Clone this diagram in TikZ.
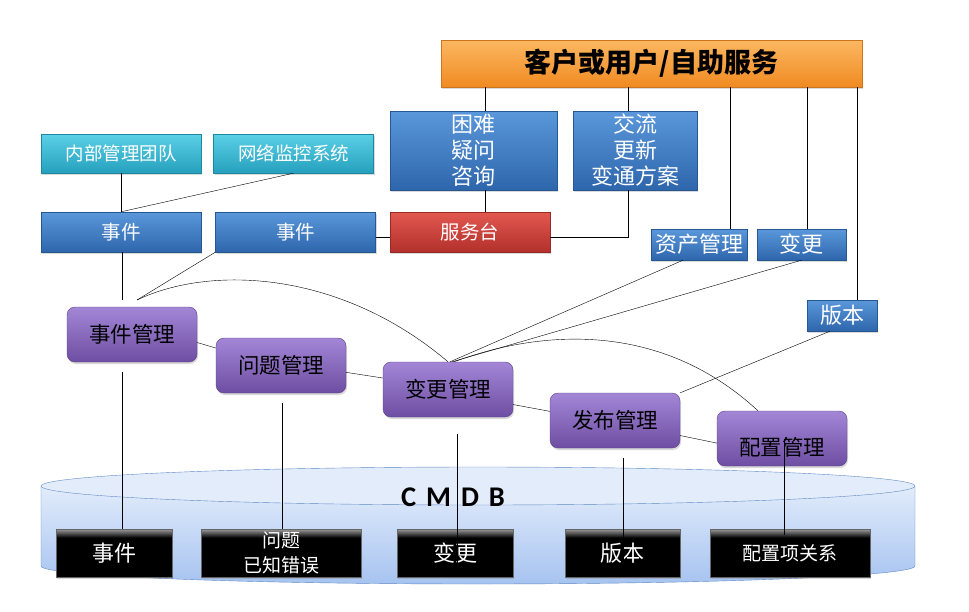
\documentclass[tikz,border=0pt]{standalone}
\usepackage{fontspec}
\setmainfont{Noto Sans CJK SC}
\newfontfamily\latinfont{Carlito}
\usetikzlibrary{shadows,calc}

\definecolor{orangetop}{HTML}{FCB862}
\definecolor{orangebot}{HTML}{F08A22}
\definecolor{bluetop}{HTML}{5A97DB}
\definecolor{bluebot}{HTML}{2E66AC}
\definecolor{cyantop}{HTML}{5BD0E6}
\definecolor{cyanbot}{HTML}{25A0BD}
\definecolor{redtop}{HTML}{E2584F}
\definecolor{redbot}{HTML}{B3302C}
\definecolor{purptop}{HTML}{A386D6}
\definecolor{purpbot}{HTML}{6D4EA2}
\definecolor{dbtop}{HTML}{E2ECFB}
\definecolor{dbbot}{HTML}{A6C3F0}
\definecolor{dbline}{HTML}{5F8AC4}
\pgfdeclareverticalshading{itemshade}{100bp}{color(0bp)=(black); color(66bp)=(black);
  color(74bp)=(black!45); color(100bp)=(black!45)}

\begin{document}
\begin{tikzpicture}[x=1pt, y=-1pt,
  box/.style={draw, inner sep=0pt, align=center,
    drop shadow={shadow xshift=1pt, shadow yshift=-2pt, opacity=0.3}},
  custbox/.style={box, draw=orangebot!85!black, top color=orangetop, bottom color=orangebot,
    minimum width=421pt, minimum height=47pt, font=\fontsize{27}{30}\selectfont\bfseries},
  infobox/.style={box, draw=bluebot!85!black, top color=bluetop, bottom color=bluebot,
    text=white, font=\fontsize{22}{26}\selectfont},
  srcbox/.style={box, draw=cyanbot!85!black, top color=cyantop, bottom color=cyanbot,
    text=white, minimum width=160pt, minimum height=39pt, font=\fontsize{18.5}{22}\selectfont},
  evbox/.style={infobox, minimum width=160pt, minimum height=40pt, font=\fontsize{19.5}{22}\selectfont},
  deskbox/.style={evbox, draw=redbot!85!black, top color=redtop, bottom color=redbot},
  procbox/.style={box, draw=purpbot!85!black, top color=purptop, bottom color=purpbot,
    rounded corners=8pt, minimum width=130pt, minimum height=55pt, font=\fontsize{21.5}{24}\selectfont},
  itembox/.style={box, draw=black!60, shading=itemshade,
    text=white, minimum height=48pt, font=\fontsize{22}{24}\selectfont}]
\useasboundingbox (0,0) rectangle (969,611);

% CMDB store
\path[top color=dbtop, bottom color=dbbot] (41,486) -- (41,566)
  arc[start angle=180, end angle=0, x radius=437, y radius=18] -- (915,486) -- cycle;
\draw[dbline] (41,486) -- (41,566)
  arc[start angle=180, end angle=0, x radius=437, y radius=18] -- (915,486);
\draw[dbline, fill=dbtop] (478,486) ellipse [x radius=437, y radius=19];
\node (cmdb) at (453,497) {\latinfont\fontsize{28.5}{30}\selectfont\bfseries
  C\hspace{10pt}M\hspace{10pt}D\hspace{10pt}B};

% Customer side
\node[custbox] (top) at (651.5,63.5) {客户或用户/自助服务};
\node[infobox, minimum width=167pt, minimum height=79pt] (hard) at (473.5,150.5) {困难\\疑问\\咨询};
\node[infobox, minimum width=124pt, minimum height=79pt] (comm) at (635,150.5) {交流\\更新\\变通方案};
\node[infobox, minimum width=96pt, minimum height=31pt] (asset) at (699,244.5) {资产管理};
\node[infobox, minimum width=89pt, minimum height=31pt] (chg) at (801.5,244.5) {变更};
\node[infobox, minimum width=70pt, minimum height=31pt] (rel) at (842,315.5) {版本};

% Event sources
\node[srcbox] (inner) at (121,153.5) {内部管理团队};
\node[srcbox] (monitor) at (293.5,153.5) {网络监控系统};
\node[evbox] (ev1) at (121,232) {事件};
\node[evbox] (ev2) at (295.5,232) {事件};
\node[deskbox] (desk) at (470,232) {服务台};

% Processes
\node[procbox] (incm) at (132,334.5) {事件管理};
\node[procbox] (prbm) at (281,365.5) {问题管理};
\node[procbox] (chgm) at (448,389.5) {变更管理};
\node[procbox] (relm) at (615,420.5) {发布管理};
\node[procbox] (cfgm) at (782,438.5) {\rule{0pt}{36pt}配置管理};

% CMDB items
\node[itembox, minimum width=116pt] (db1) at (114,553) {事件};
\node[itembox, minimum width=160pt, font=\fontsize{19}{25}\selectfont] (db2) at (281,553) {问题\\已知错误};
\node[itembox, minimum width=116pt] (db3) at (455,553) {变更};
\node[itembox, minimum width=115pt] (db4) at (622.5,553) {版本};
\node[itembox, minimum width=160pt, font=\fontsize{19}{24}\selectfont] (db5) at (790,553) {配置项关系};

% Links from customer
\coordinate (xa) at (485,0);
\coordinate (xb) at (628,0);
\coordinate (xc) at (730,0);
\coordinate (xd) at (807,0);
\coordinate (xe) at (857,0);
\draw (top.south -| xa) -- (hard.north -| xa);
\draw (hard.south -| xa) -- (desk.north -| xa);
\draw (top.south -| xb) -- (comm.north -| xb);
\draw (comm.south -| xb) |- ([yshift=-5pt]desk.east);
\draw (top.south -| xc) -- (asset.north -| xc);
\draw (top.south -| xd) -- (chg.north -| xd);
\draw (top.south -| xe) -- (rel.north -| xe);

% Event links
\coordinate (hubA) at (122,300);
\coordinate (hubB) at (137,300);
\draw (inner) -- (ev1);
\draw (monitor.south) -- (ev1.north);
\draw ([yshift=-5pt]ev2.east) -- ([yshift=-5pt]desk.west);
\draw (ev1.south -| hubA) -- (hubA);
\draw (hubB) -- (ev2.south west);
\draw (hubB) .. controls (210,265) and (340,270) .. (chgm.north);
\draw ([xshift=2pt]chgm.north) -- ([xshift=-16pt]asset.south);
\draw ([xshift=4pt]chgm.north) -- (chg.south);
\draw ([xshift=6pt]chgm.north) .. controls (540,330) and (660,320) .. ([xshift=-24pt]cfgm.north);
\draw ([xshift=-12pt]rel.south) -- (relm.north east);

% Process chain
\draw (incm.-7) -- (prbm.165);
\draw (prbm.-6) -- (chgm.170);
\draw (chgm.-13) -- (relm.172);
\draw (relm.-13) -- (cfgm.184);

% Down to CMDB
\coordinate (d1) at (122,0);
\coordinate (d2) at (282,0);
\coordinate (d3) at (457,0);
\coordinate (d4) at (623,0);
\coordinate (d5) at (784,0);
\draw (incm.south -| d1) ++(0,10) -- (db1.north -| d1);
\draw (prbm.south -| d2) ++(0,10) -- (db2.north -| d2);
\draw (chgm.south -| d3) ++(0,17) -- (db3.south -| d3);
\draw (relm.south -| d4) ++(0,10) -- (db4.south -| d4);
\draw (cfgm.center -| d5) -- ($(db5.north -| d5)+(0,6)$);
\end{tikzpicture}
\end{document}
